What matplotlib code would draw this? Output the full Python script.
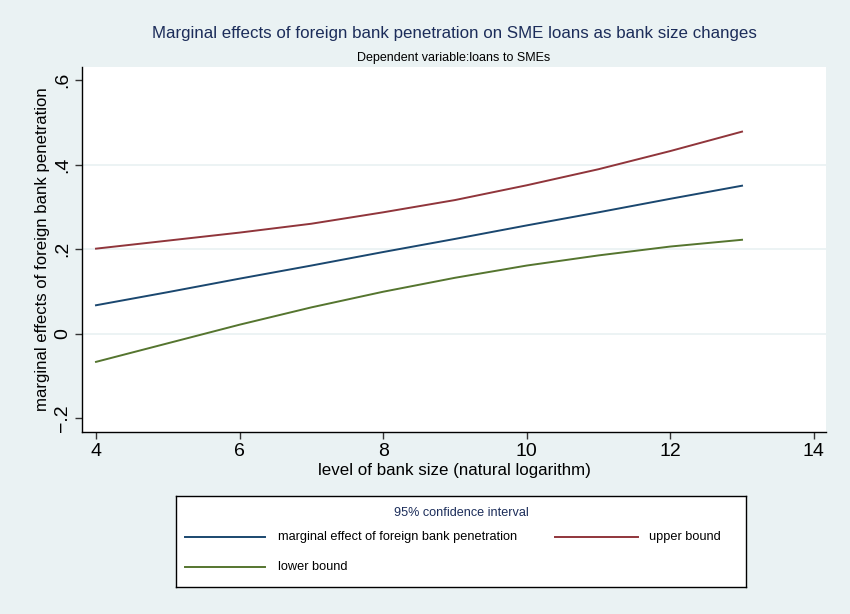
import matplotlib
matplotlib.use('Agg')
import matplotlib.pyplot as plt

plt.rcParams['font.family'] = ['Liberation Sans', 'DejaVu Sans']

# データ
bank_size = [4, 5, 6, 7, 8, 9, 10, 11, 12, 13]
marginal_effect = [0.067, 0.098, 0.130, 0.161, 0.193, 0.224, 0.256, 0.287, 0.319, 0.350]
upper_bound = [0.201, 0.220, 0.239, 0.260, 0.287, 0.316, 0.351, 0.389, 0.432, 0.478]
lower_bound = [-0.067, -0.023, 0.021, 0.062, 0.099, 0.132, 0.161, 0.185, 0.206, 0.222]

x_ticks = [4, 6, 8, 10, 12, 14]
y_ticks = [-0.2, 0, 0.2, 0.4, 0.6]
y_tick_labels = ['\u2212.2', '0', '.2', '.4', '.6']
grid_levels = [0, 0.2, 0.4]

series_labels = ['marginal effect of foreign bank penetration', 'upper bound', 'lower bound']

BG = '#eaf2f3'
NAVY = '#1a476f'
MAROON = '#90353b'
GREEN = '#55752f'
TITLE = '#1c2d5a'

W, H = 850, 614
fig = plt.figure(figsize=(W / 100, H / 100), dpi=100, facecolor=BG)

# プロット領域 (ピクセル基準)
left, right, top, bottom = 82, 826, 67, 432
ax = fig.add_axes([left / W, 1 - bottom / H, (right - left) / W, (bottom - top) / H])
ax.set_facecolor('white')

for lvl in grid_levels:
    ax.axhline(lvl, color=BG, linewidth=1.3, zorder=0)

ax.plot(bank_size, marginal_effect, color=NAVY, linewidth=1.4)
ax.plot(bank_size, upper_bound, color=MAROON, linewidth=1.4)
ax.plot(bank_size, lower_bound, color=GREEN, linewidth=1.4)

ax.set_xlim(3.805, 14.17)
ax.set_ylim(-0.233, 0.631)
ax.set_xticks(x_ticks)
ax.set_xticklabels([str(t) for t in x_ticks])
ax.set_yticks(y_ticks)
ax.set_yticklabels(y_tick_labels, rotation=90, va='center')

for side in ['top', 'right']:
    ax.spines[side].set_visible(False)
for side in ['left', 'bottom']:
    ax.spines[side].set_color('black')
    ax.spines[side].set_linewidth(1.0)

ax.tick_params(axis='both', direction='out', length=5, width=1, color='#333333',
               labelsize=14, labelcolor='black', pad=3)

ax.set_xlabel('level of bank size (natural logarithm)', fontsize=12.2, labelpad=2)
ax.set_ylabel('marginal effects of foreign bank penetration', fontsize=12.1, labelpad=3)

cx = (left + right) / 2 / W
fig.text(cx, 1 - 33.5 / H, 'Marginal effects of foreign bank penetration on SME loans as bank size changes',
         ha='center', va='center', fontsize=12.2, color=TITLE)
fig.text(cx, 1 - 57.5 / H, 'Dependent variable:loans to SMEs',
         ha='center', va='center', fontsize=9, color='black')

# 凡例 (手動)
lx0, lx1, ly0, ly1 = 176, 746, 496, 587
lax = fig.add_axes([lx0 / W, 1 - ly1 / H, (lx1 - lx0) / W, (ly1 - ly0) / H])
lax.set_xlim(lx0, lx1)
lax.set_ylim(ly1, ly0)
lax.set_xticks([])
lax.set_yticks([])
lax.set_facecolor('white')
for s in lax.spines.values():
    s.set_color('black')
    s.set_linewidth(1.0)

lax.text((lx0 + lx1) / 2, 513, '95% confidence interval', ha='center', va='center',
         fontsize=9.1, color=TITLE)
entries = [
    (185, 265, 278, 537, NAVY, series_labels[0]),
    (555, 638, 649, 537, MAROON, series_labels[1]),
    (185, 265, 278, 567, GREEN, series_labels[2]),
]
for x0, x1, tx, y, col, lab in entries:
    lax.plot([x0, x1], [y, y], color=col, linewidth=1.4)
    lax.text(tx, y, lab, ha='left', va='center', fontsize=9.2, color='black')

fig.savefig('out.png', dpi=100, facecolor=BG)
